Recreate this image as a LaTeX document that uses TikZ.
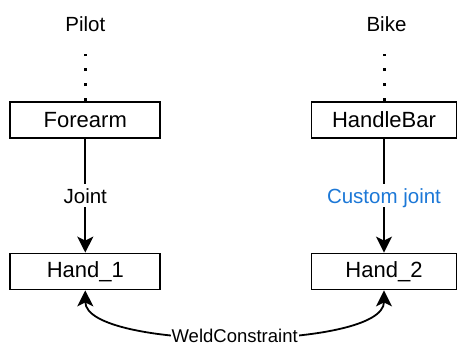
\documentclass[tikz,border=0pt]{standalone}
\usepackage{fontspec}
\setmainfont{Liberation Sans}
\usetikzlibrary{arrows.meta}
\definecolor{jointblue}{RGB}{28,120,215}
\tikzset{hd/.tip={Stealth[length=16pt, width=16pt, inset=4pt]}}
\begin{document}
\begin{tikzpicture}[x=1pt, y=1pt, line width=1.8pt,
  body/.style={draw, minimum height=36pt, inner sep=0pt, font=\fontsize{22}{26}\selectfont},
  lbl/.style={font=\fontsize{20.5}{24}\selectfont, inner sep=0pt, text height=14.7pt, text depth=0pt},
  jlbl/.style={lbl, fill=white, inner sep=4pt},
  arr/.style={-hd},
  dotline/.style={dash pattern=on 3pt off 12pt, line width=3pt}]
\useasboundingbox (0,0) rectangle (458,345);
\node[lbl] (pilot) at (85.3,320.5) {Pilot};
\node[lbl] (bike) at (386.5,320.5) {Bike};
\node[body, minimum width=150pt] (forearm) at (85.3,225) {Forearm};
\node[body, minimum width=145pt] (handlebar) at (384,225) {HandleBar};
\node[body, minimum width=150pt] (hand1) at (85.3,73.5) {Hand\_1};
\node[body, minimum width=145pt] (hand2) at (384,73.5) {Hand\_2};
\draw[dotline, shorten >=21pt] (forearm.north) -- (pilot.south);
\draw[dotline, shorten >=21pt] (handlebar.north) -- (handlebar.north |- pilot.south);
\draw[arr] (forearm) -- node[jlbl] {Joint} (hand1);
\draw[arr] (handlebar) -- node[jlbl, text=jointblue] {Custom joint} (hand2);
\draw[hd-hd] (hand1.south) to[out=-90, in=-90, looseness=0.52]
  node[fill=white, inner sep=1pt, font=\fontsize{18.5}{22}\selectfont, text height=13.2pt, text depth=0pt] {WeldConstraint} (hand2.south);
\end{tikzpicture}
\end{document}
